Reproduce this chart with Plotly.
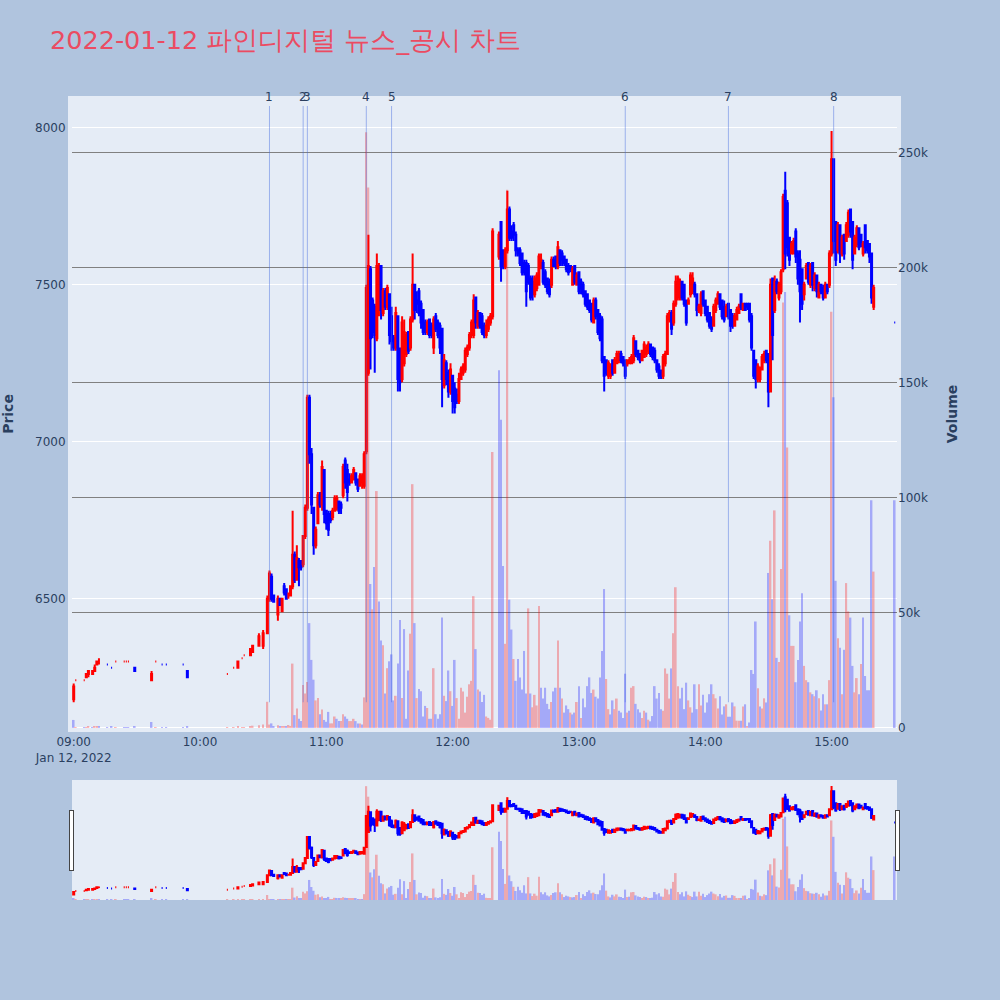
import plotly.graph_objects as go
from plotly.subplots import make_subplots

DAY = "2022-01-12"

times = [
    # 09
    "09:00", "09:01", "09:05", "09:06", "09:07", "09:09", "09:10", "09:11", "09:12", "09:16",
    "09:18", "09:20", "09:24", "09:25", "09:26", "09:29", "09:37", "09:39", "09:42", "09:44",
    "09:52", "09:54",
    # 10
    "10:13", "10:16", "10:18", "10:20", "10:21", "10:24", "10:25", "10:28", "10:30", "10:32",
    "10:33", "10:34", "10:35", "10:37", "10:38", "10:39", "10:40", "10:41", "10:42", "10:43",
    "10:44", "10:45", "10:46", "10:47", "10:48", "10:49", "10:50", "10:51", "10:52", "10:53",
    "10:54", "10:55", "10:56", "10:57", "10:58", "10:59",
    # 11
    "11:00", "11:01", "11:02", "11:03", "11:04", "11:05", "11:06", "11:07", "11:08", "11:09",
    "11:10", "11:11", "11:12", "11:13", "11:14", "11:15", "11:16", "11:17", "11:18", "11:19",
    "11:20", "11:21", "11:22", "11:23", "11:24", "11:25", "11:26", "11:27", "11:28", "11:29",
    "11:30", "11:31", "11:32", "11:33", "11:34", "11:35", "11:36", "11:37", "11:38", "11:39",
    "11:40", "11:41", "11:42", "11:43", "11:44", "11:45", "11:46", "11:47", "11:48", "11:49",
    "11:50", "11:51", "11:52", "11:53", "11:54", "11:55", "11:56", "11:57", "11:58", "11:59",
    # 12
    "12:00", "12:01", "12:02", "12:03", "12:04", "12:05", "12:06", "12:07", "12:08", "12:09",
    "12:10", "12:11", "12:12", "12:13", "12:14", "12:15", "12:16", "12:17", "12:18", "12:19",
    "12:22", "12:23", "12:24", "12:25", "12:26", "12:27", "12:28", "12:29",
    "12:30", "12:31", "12:32", "12:33", "12:34", "12:35", "12:36", "12:37", "12:38", "12:39",
    "12:40", "12:41", "12:42", "12:43", "12:44", "12:45", "12:46", "12:47", "12:48", "12:49",
    "12:50", "12:51", "12:52", "12:53", "12:54", "12:55", "12:56", "12:57", "12:58", "12:59",
    # 13
    "13:00", "13:01", "13:02", "13:03", "13:04", "13:05", "13:06", "13:07", "13:08", "13:09",
    "13:10", "13:11", "13:12", "13:13", "13:14", "13:15", "13:16", "13:17", "13:18", "13:19",
    "13:20", "13:21", "13:22", "13:23", "13:24", "13:25", "13:26", "13:27", "13:28", "13:29",
    "13:30", "13:31", "13:32", "13:33", "13:34", "13:35", "13:36", "13:37", "13:38", "13:39",
    "13:40", "13:41", "13:42", "13:43", "13:44", "13:45", "13:46", "13:47", "13:48", "13:49",
    "13:50", "13:51", "13:52", "13:53", "13:54", "13:55", "13:56", "13:57", "13:58", "13:59",
    # 14
    "14:00", "14:01", "14:02", "14:03", "14:04", "14:05", "14:06", "14:07", "14:08", "14:09",
    "14:10", "14:11", "14:12", "14:13", "14:14", "14:15", "14:16", "14:17", "14:18", "14:19",
    "14:20", "14:21", "14:22", "14:23", "14:24", "14:25", "14:26", "14:27", "14:28", "14:29",
    "14:30", "14:31", "14:32", "14:33", "14:34", "14:35", "14:36", "14:37", "14:38", "14:39",
    "14:40", "14:41", "14:42", "14:43", "14:44", "14:45", "14:46", "14:47", "14:48", "14:49",
    "14:50", "14:51", "14:52", "14:53", "14:54", "14:55", "14:56", "14:57", "14:58", "14:59",
    # 15
    "15:00", "15:01", "15:02", "15:03", "15:04", "15:05", "15:06", "15:07", "15:08", "15:09",
    "15:10", "15:11", "15:12", "15:13", "15:14", "15:15", "15:16", "15:17", "15:18", "15:19",
    "15:20", "15:30",
]

opens = [
    # 09
    6180, 6240, 6240, 6250, 6260, 6260, 6270, 6290, 6300, 6290,
    6280, 6300, 6300, 6300, 6300, 6280, 6240, 6300, 6290, 6290,
    6290, 6270,
    # 10
    6260, 6280, 6280, 6310, 6320, 6320, 6330, 6350, 6350, 6390,
    6500, 6570, 6510, 6450, 6500, 6460, 6540, 6530, 6510, 6510,
    6540, 6640, 6560, 6620, 6620, 6610, 6700, 6790, 7140, 6960,
    6790, 6670, 6740, 6830, 6800, 6910,
    # 11
    6780, 6770, 6770, 6760, 6780, 6790, 6810, 6800, 6830, 6940,
    6910, 6880, 6870, 6880, 6900, 6880, 6860, 6870, 6860, 6970,
    7220, 7550, 7450, 7430, 7330, 7420, 7560, 7410, 7480, 7430,
    7470, 7400, 7330, 7300, 7400, 7290, 7200, 7250, 7280, 7350,
    7300, 7390, 7500, 7450, 7480, 7440, 7420, 7380, 7350, 7390,
    7370, 7300, 7400, 7380, 7370, 7360, 7180, 7250, 7220, 7160,
    # 12
    7210, 7170, 7150, 7130, 7200, 7220, 7230, 7280, 7300, 7340,
    7340, 7460, 7370, 7410, 7400, 7370, 7340, 7360, 7380, 7400,
    7590, 7700, 7610, 7560, 7610, 7740, 7670, 7690,
    7660, 7610, 7610, 7600, 7570, 7570, 7560, 7520, 7510, 7470,
    7490, 7500, 7560, 7570, 7540, 7520, 7510, 7500, 7580, 7590,
    7560, 7610, 7600, 7590, 7580, 7560, 7560, 7500, 7560, 7500,
    # 13
    7540, 7510, 7500, 7480, 7470, 7450, 7440, 7380, 7450, 7420,
    7400, 7390, 7270, 7260, 7210, 7210, 7260, 7220, 7250, 7260,
    7280, 7270, 7260, 7250, 7250, 7250, 7260, 7320, 7290, 7280,
    7260, 7270, 7280, 7290, 7310, 7300, 7290, 7260, 7240, 7220,
    7210, 7250, 7280, 7390, 7410, 7380, 7440, 7460, 7480, 7510,
    7500, 7450, 7440, 7470, 7480, 7500, 7470, 7420, 7410, 7480,
    # 14
    7450, 7430, 7410, 7390, 7370, 7420, 7440, 7470, 7450, 7430,
    7400, 7440, 7420, 7400, 7370, 7390, 7410, 7470, 7420, 7440,
    7440, 7440, 7400, 7290, 7260, 7200, 7200, 7230, 7260, 7290,
    7280, 7160, 7520, 7420, 7510, 7460, 7480, 7550, 7800, 7760,
    7650, 7600, 7600, 7670, 7600, 7580, 7550, 7470, 7520, 7570,
    7500, 7570, 7490, 7530, 7460, 7500, 7490, 7460, 7500, 7500,
    # 15
    7600, 7900, 7700, 7610, 7690, 7600, 7660, 7640, 7660, 7740,
    7700, 7600, 7630, 7680, 7660, 7600, 7690, 7640, 7630, 7600,
    7430, 7380,
]

highs = [
    # 09
    6230, 6240, 6240, 6260, 6270, 6270, 6290, 6300, 6310, 6290,
    6280, 6300, 6300, 6300, 6300, 6280, 6270, 6300, 6290, 6290,
    6290, 6270,
    # 10
    6260, 6280, 6300, 6310, 6320, 6340, 6350, 6390, 6400, 6510,
    6590, 6580, 6510, 6510, 6500, 6500, 6550, 6530, 6520, 6540,
    6780, 6650, 6670, 6630, 6620, 6700, 6800, 7150, 7150, 6980,
    6790, 6730, 6840, 6840, 6940, 6910,
    # 11
    6780, 6780, 6780, 6790, 6830, 6830, 6810, 6810, 6930, 6950,
    6930, 6900, 6900, 6920, 6900, 6880, 6900, 6900, 6970, 7500,
    7660, 7560, 7460, 7440, 7600, 7570, 7560, 7490, 7490, 7500,
    7470, 7430, 7340, 7430, 7400, 7300, 7400, 7390, 7350, 7350,
    7400, 7600, 7500, 7480, 7490, 7450, 7420, 7390, 7390, 7390,
    7380, 7400, 7410, 7390, 7380, 7360, 7280, 7260, 7230, 7250,
    # 12
    7210, 7190, 7170, 7220, 7240, 7250, 7300, 7310, 7350, 7390,
    7470, 7460, 7420, 7410, 7410, 7380, 7390, 7400, 7410, 7680,
    7670, 7700, 7610, 7620, 7800, 7750, 7690, 7700,
    7670, 7620, 7620, 7600, 7580, 7580, 7570, 7530, 7530, 7530,
    7540, 7600, 7600, 7580, 7550, 7520, 7520, 7590, 7590, 7590,
    7640, 7610, 7610, 7590, 7580, 7570, 7560, 7560, 7560, 7540,
    # 13
    7540, 7520, 7510, 7480, 7470, 7450, 7440, 7460, 7460, 7420,
    7410, 7400, 7270, 7260, 7260, 7250, 7260, 7270, 7290, 7290,
    7290, 7270, 7260, 7260, 7270, 7280, 7340, 7320, 7290, 7280,
    7290, 7320, 7310, 7320, 7310, 7300, 7300, 7260, 7250, 7230,
    7280, 7290, 7410, 7420, 7420, 7450, 7530, 7530, 7520, 7510,
    7500, 7450, 7460, 7540, 7540, 7510, 7470, 7440, 7480, 7480,
    # 14
    7450, 7430, 7410, 7400, 7440, 7460, 7480, 7470, 7450, 7450,
    7440, 7440, 7420, 7410, 7410, 7430, 7440, 7470, 7440, 7440,
    7440, 7440, 7410, 7290, 7260, 7250, 7240, 7280, 7290, 7290,
    7280, 7520, 7520, 7530, 7520, 7510, 7550, 7790, 7860, 7770,
    7650, 7640, 7650, 7680, 7610, 7610, 7550, 7510, 7570, 7570,
    7570, 7570, 7540, 7530, 7510, 7500, 7500, 7510, 7500, 7610,
    # 15
    7990, 7900, 7700, 7700, 7690, 7660, 7660, 7700, 7740, 7740,
    7700, 7660, 7690, 7680, 7660, 7640, 7690, 7640, 7630, 7600,
    7500, 7380,
]

lows = [
    # 09
    6170, 6240, 6240, 6250, 6250, 6260, 6270, 6290, 6290, 6290,
    6280, 6300, 6300, 6300, 6300, 6270, 6240, 6300, 6290, 6290,
    6290, 6250,
    # 10
    6260, 6280, 6280, 6310, 6320, 6320, 6330, 6350, 6340, 6390,
    6490, 6490, 6490, 6430, 6480, 6460, 6510, 6500, 6500, 6510,
    6530, 6550, 6560, 6540, 6590, 6600, 6690, 6780, 6930, 6770,
    6640, 6660, 6740, 6790, 6780, 6740,
    # 11
    6720, 6700, 6740, 6750, 6780, 6780, 6770, 6770, 6820, 6850,
    6810, 6860, 6870, 6880, 6860, 6840, 6860, 6850, 6850, 6960,
    7210, 7230, 7330, 7220, 7320, 7400, 7390, 7400, 7420, 7420,
    7310, 7290, 7290, 7290, 7160, 7160, 7190, 7240, 7270, 7280,
    7290, 7380, 7390, 7410, 7400, 7360, 7340, 7340, 7340, 7330,
    7330, 7280, 7350, 7330, 7280, 7110, 7170, 7180, 7140, 7150,
    # 12
    7090, 7090, 7120, 7120, 7200, 7210, 7220, 7270, 7290, 7330,
    7330, 7360, 7360, 7360, 7340, 7330, 7330, 7350, 7370, 7390,
    7580, 7510, 7550, 7550, 7600, 7640, 7640, 7640,
    7590, 7590, 7560, 7530, 7530, 7430, 7500, 7450, 7450, 7460,
    7480, 7500, 7550, 7500, 7490, 7470, 7460, 7490, 7560, 7550,
    7550, 7560, 7560, 7560, 7540, 7530, 7540, 7500, 7500, 7500,
    # 13
    7470, 7470, 7460, 7430, 7420, 7410, 7380, 7380, 7390, 7340,
    7320, 7250, 7160, 7210, 7200, 7200, 7210, 7220, 7250, 7250,
    7250, 7240, 7200, 7240, 7250, 7250, 7250, 7270, 7260, 7250,
    7260, 7270, 7270, 7280, 7270, 7260, 7250, 7220, 7200, 7200,
    7200, 7240, 7280, 7380, 7340, 7370, 7430, 7450, 7450, 7450,
    7430, 7370, 7440, 7460, 7470, 7460, 7400, 7410, 7400, 7430,
    # 14
    7400, 7380, 7360, 7350, 7370, 7410, 7440, 7420, 7390, 7380,
    7400, 7390, 7350, 7360, 7370, 7390, 7410, 7420, 7420, 7420,
    7420, 7380, 7290, 7200, 7170, 7190, 7190, 7230, 7250, 7250,
    7110, 7160, 7260, 7410, 7470, 7450, 7470, 7540, 7550, 7590,
    7560, 7600, 7600, 7570, 7500, 7380, 7420, 7450, 7520, 7500,
    7490, 7480, 7480, 7460, 7460, 7470, 7450, 7460, 7470, 7490,
    # 15
    7590, 7600, 7560, 7600, 7570, 7590, 7580, 7640, 7650, 7650,
    7550, 7600, 7620, 7610, 7620, 7590, 7600, 7600, 7570, 7440,
    7420, 7380,
]

closes = [
    # 09
    6220, 6240, 6240, 6260, 6270, 6270, 6280, 6300, 6300, 6290,
    6280, 6300, 6300, 6300, 6300, 6270, 6260, 6300, 6290, 6290,
    6290, 6250,
    # 10
    6260, 6280, 6300, 6310, 6320, 6340, 6350, 6380, 6390, 6500,
    6580, 6500, 6490, 6500, 6480, 6500, 6520, 6500, 6510, 6540,
    6640, 6560, 6630, 6600, 6600, 6700, 6790, 7140, 6960, 6800,
    6670, 6720, 6830, 6800, 6920, 6770,
    # 11
    6740, 6720, 6750, 6780, 6820, 6820, 6780, 6790, 6920, 6870,
    6840, 6870, 6890, 6910, 6870, 6850, 6890, 6890, 6960, 7490,
    7560, 7330, 7350, 7340, 7560, 7560, 7420, 7480, 7430, 7490,
    7340, 7320, 7300, 7410, 7200, 7190, 7380, 7350, 7340, 7290,
    7390, 7500, 7420, 7440, 7410, 7380, 7350, 7350, 7380, 7340,
    7340, 7390, 7360, 7340, 7300, 7200, 7260, 7200, 7160, 7230,
    # 12
    7130, 7110, 7130, 7200, 7230, 7240, 7290, 7300, 7340, 7380,
    7450, 7380, 7410, 7370, 7350, 7340, 7370, 7390, 7400, 7670,
    7660, 7560, 7560, 7610, 7740, 7650, 7650, 7660,
    7610, 7600, 7570, 7540, 7540, 7480, 7510, 7460, 7470, 7520,
    7530, 7590, 7580, 7510, 7500, 7480, 7470, 7580, 7560, 7560,
    7620, 7570, 7580, 7570, 7550, 7540, 7550, 7550, 7510, 7530,
    # 13
    7480, 7490, 7470, 7440, 7430, 7420, 7390, 7450, 7400, 7350,
    7330, 7260, 7210, 7220, 7250, 7240, 7220, 7260, 7280, 7280,
    7260, 7250, 7210, 7260, 7260, 7270, 7330, 7280, 7270, 7260,
    7290, 7310, 7300, 7310, 7280, 7270, 7260, 7230, 7210, 7210,
    7270, 7280, 7400, 7410, 7360, 7440, 7510, 7520, 7510, 7460,
    7440, 7380, 7450, 7530, 7520, 7470, 7420, 7430, 7470, 7440,
    # 14
    7410, 7390, 7370, 7360, 7430, 7450, 7470, 7430, 7400, 7390,
    7430, 7400, 7370, 7370, 7400, 7420, 7430, 7430, 7440, 7420,
    7430, 7390, 7300, 7210, 7200, 7240, 7230, 7270, 7280, 7260,
    7160, 7500, 7340, 7510, 7480, 7500, 7540, 7780, 7600, 7620,
    7580, 7630, 7640, 7590, 7520, 7480, 7440, 7500, 7560, 7510,
    7560, 7500, 7530, 7480, 7500, 7480, 7460, 7500, 7480, 7600,
    # 15
    7900, 7640, 7580, 7690, 7600, 7650, 7600, 7690, 7730, 7670,
    7580, 7650, 7680, 7620, 7630, 7630, 7620, 7610, 7590, 7460,
    7490, 7380,
]

volumes = [
    # 09
    3500, 300, 200, 400, 500, 300, 600, 700, 500, 200,
    600, 200, 300, 200, 300, 500, 2600, 200, 200, 200,
    200, 500,
    # 10
    300, 300, 600, 300, 400, 800, 1000, 1200, 1500, 11400,
    1500, 2000, 800, 1200, 600, 900, 700, 600, 1300, 900,
    28000, 5600, 8500, 4000, 3000, 18700, 15000, 20000, 45600, 29600,
    21000, 12000, 13000, 6000, 8000, 3500,
    # 11
    2700, 7000, 2000, 2000, 5000, 4000, 3000, 3000, 6000, 5000,
    4000, 3000, 3000, 4000, 3000, 2000, 2000, 1500, 13300, 259000,
    235000, 62600, 51600, 70000, 103000, 55000, 38000, 36000, 15000, 26000,
    29000, 32000, 12000, 14000, 28000, 47000, 13000, 43000, 4000, 25000,
    41000, 106000, 45600, 13000, 17000, 16000, 5000, 9600, 8700, 4000,
    4000, 26000, 6000, 4000, 6000, 48000, 14000, 11700, 25000, 16000,
    # 12
    9600, 29600, 13000, 4000, 17500, 15900, 6700, 13600, 19000, 20500,
    57300, 34300, 16700, 15900, 11300, 14400, 5000, 4400, 3600, 120000,
    155500, 134000, 70400, 36600, 234000, 55800, 42800, 30000,
    20500, 30000, 22000, 16700, 33500, 15000, 52000, 15000, 9000, 14400,
    9800, 53000, 17500, 12800, 17500, 10500, 8200, 11300, 15900, 17500,
    38000, 17500, 12800, 6700, 9800, 8200, 6700, 5900, 6700, 11300,
    # 13
    18200, 4400, 12800, 9000, 18200, 22000, 15200, 16700, 13600, 12800,
    22000, 33500, 60400, 21300, 8200, 5900, 12000, 8200, 12800, 7500,
    6700, 4400, 23600, 6700, 7500, 17500, 18200, 10500, 8200, 6700,
    4400, 7500, 6700, 3600, 2900, 5200, 18200, 12800, 15200, 8200,
    7500, 25900, 23600, 12800, 25900, 41200, 61200, 18200, 12800, 17500,
    8200, 19700, 12000, 9000, 6700, 19000, 8200, 19000, 9800, 14400,
    # 14
    6700, 11100, 14700, 19000, 14700, 12900, 8500, 13800, 5900, 9400,
    10300, 4900, 4900, 11100, 9400, 3200, 3200, 3200, 9400, 10300,
    600, 2400, 25200, 23500, 46300, 17300, 9400, 8500, 12900, 11100,
    67400, 81400, 56000, 94600, 30500, 28700, 69100, 185000, 189500, 121900,
    49000, 35700, 35700, 19900, 29600, 46300, 58600, 27000, 20800, 19900,
    15500, 14700, 13800, 16400, 12900, 7600, 14700, 10300, 10300, 20800,
    # 15
    181000, 143800, 64000, 39000, 34900, 14700, 34000, 63000, 50700, 48000,
    27000, 15500, 21700, 14700, 27800, 48000, 22600, 16400, 16400, 99000,
    68000, 99000,
]

news_times = ["10:33", "10:49", "10:51", "11:19", "11:31", "13:22", "14:11", "15:01"]
news_labels = ["1", "2", "3", "4", "5", "6", "7", "8"]

assert len(times) == len(opens) == len(highs) == len(lows) == len(closes) == len(volumes)

xs = [f"{DAY} {t}" for t in times]
vol_colors = ["red" if i > 0 and closes[i] > closes[i - 1] else "blue" for i in range(len(closes))]

fig = make_subplots(specs=[[{"secondary_y": True}]])
fig.add_trace(
    go.Candlestick(
        x=xs, open=opens, high=highs, low=lows, close=closes,
        increasing=dict(line=dict(color="red"), fillcolor="red"),
        decreasing=dict(line=dict(color="blue"), fillcolor="blue"),
        name="Price",
    ),
    secondary_y=False,
)
fig.add_trace(
    go.Bar(x=xs, y=volumes, marker=dict(color=vol_colors, line=dict(width=0)), opacity=0.28, name="Volume"),
    secondary_y=True,
)

y_lo = min(lows)
y_hi = max(highs) * 1.01
for t, lab in zip(news_times, news_labels):
    xt = f"{DAY} {t}"
    fig.add_shape(type="line", xref="x", yref="y", x0=xt, x1=xt, y0=y_lo, y1=y_hi,
                  line=dict(color="royalblue", width=1), opacity=0.45)
    fig.add_annotation(xref="x", yref="y", x=xt, y=y_hi, text=lab, showarrow=False,
                       yanchor="bottom", font=dict(size=12, color="#2a3f5f"))

x_range = [f"{DAY} 08:59:12", f"{DAY} 15:31:05"]
frame = "#E5ECF6"

fig.update_layout(
    width=1000, height=1000,
    paper_bgcolor="#B0C4DE", plot_bgcolor="#E5ECF6",
    margin=dict(l=72, r=103, t=100, b=100),
    font=dict(family="Verdana, DejaVu Sans, sans-serif", color="#2a3f5f"),
    title=dict(text=f"{DAY} 파인디지털 뉴스_공시 차트", x=0.05, xanchor="left", y=0.96, yanchor="middle",
               font=dict(size=25.5, color="#EB4B62")),
    showlegend=False,
)
fig.update_xaxes(domain=[0, 1], range=x_range, showgrid=False, showline=True, linewidth=4,
                 linecolor=frame, mirror=True, rangeslider=dict(visible=True, range=x_range))
fig.update_yaxes(secondary_y=False, title=dict(text="<b>Price</b>", font=dict(size=14), standoff=20),
                 automargin=False,
                 range=[6088, 8089], showline=True, linewidth=4, linecolor=frame, mirror=True,
                 gridcolor="white")
fig.update_yaxes(secondary_y=True, title=dict(text="<b>Volume</b>", font=dict(size=14), standoff=20),
                 automargin=False,
                 range=[0, 273000], showgrid=True, gridcolor="gray", gridwidth=1,
                 zeroline=True, zerolinecolor="white", zerolinewidth=2)

fig.write_html("out.html", config={"displayModeBar": False},
               post_script="document.body.style.margin='0px';")
